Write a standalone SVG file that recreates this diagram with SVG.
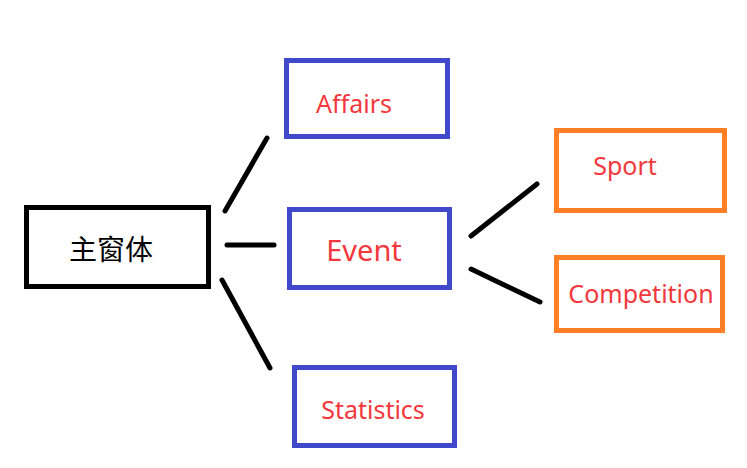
<svg xmlns="http://www.w3.org/2000/svg" width="747" height="468" viewBox="0 0 747 468">
<style>
.box{fill:#fff;stroke-width:5}
.blue{stroke:#4048CC}
.orange{stroke:#FF7F27}
.black{stroke:#000}
.lbl{fill:#F2383C;font-family:"Noto Sans","Open Sans",sans-serif;font-size:25px;text-anchor:middle}
.cjk{fill:#000;font-family:"Noto Sans CJK SC",sans-serif;font-size:28px;text-anchor:middle}
.conn line{stroke:#000;stroke-width:5;stroke-linecap:round}
</style>
<rect width="747" height="468" fill="#fff"/>
<g class="conn" id="connectors">
<line x1="225" y1="211" x2="267" y2="138"/>
<line x1="227" y1="245" x2="274" y2="245"/>
<line x1="222" y1="280" x2="270" y2="368"/>
<line x1="471" y1="236" x2="537" y2="184"/>
<line x1="471" y1="269" x2="540" y2="302"/>
</g>
<g id="main">
<rect class="box black" x="26.5" y="207.5" width="182" height="79"/>
<text class="cjk" x="111" y="260">主窗体</text>
</g>
<g id="affairs">
<rect class="box blue" x="286.5" y="60.5" width="161" height="76"/>
<text class="lbl" x="354" y="113">Affairs</text>
</g>
<g id="event">
<rect class="box blue" x="289.5" y="209.5" width="160" height="78"/>
<text class="lbl" x="364" y="261" style="font-size:29px">Event</text>
</g>
<g id="statistics">
<rect class="box blue" x="294.5" y="367.5" width="160" height="78"/>
<text class="lbl" x="373" y="419">Statistics</text>
</g>
<g id="sport">
<rect class="box orange" x="556.5" y="130.5" width="168" height="80"/>
<text class="lbl" x="625" y="175">Sport</text>
</g>
<g id="competition">
<rect class="box orange" x="556.5" y="257.5" width="166" height="73"/>
<text class="lbl" x="641" y="303">Competition</text>
</g>
</svg>
